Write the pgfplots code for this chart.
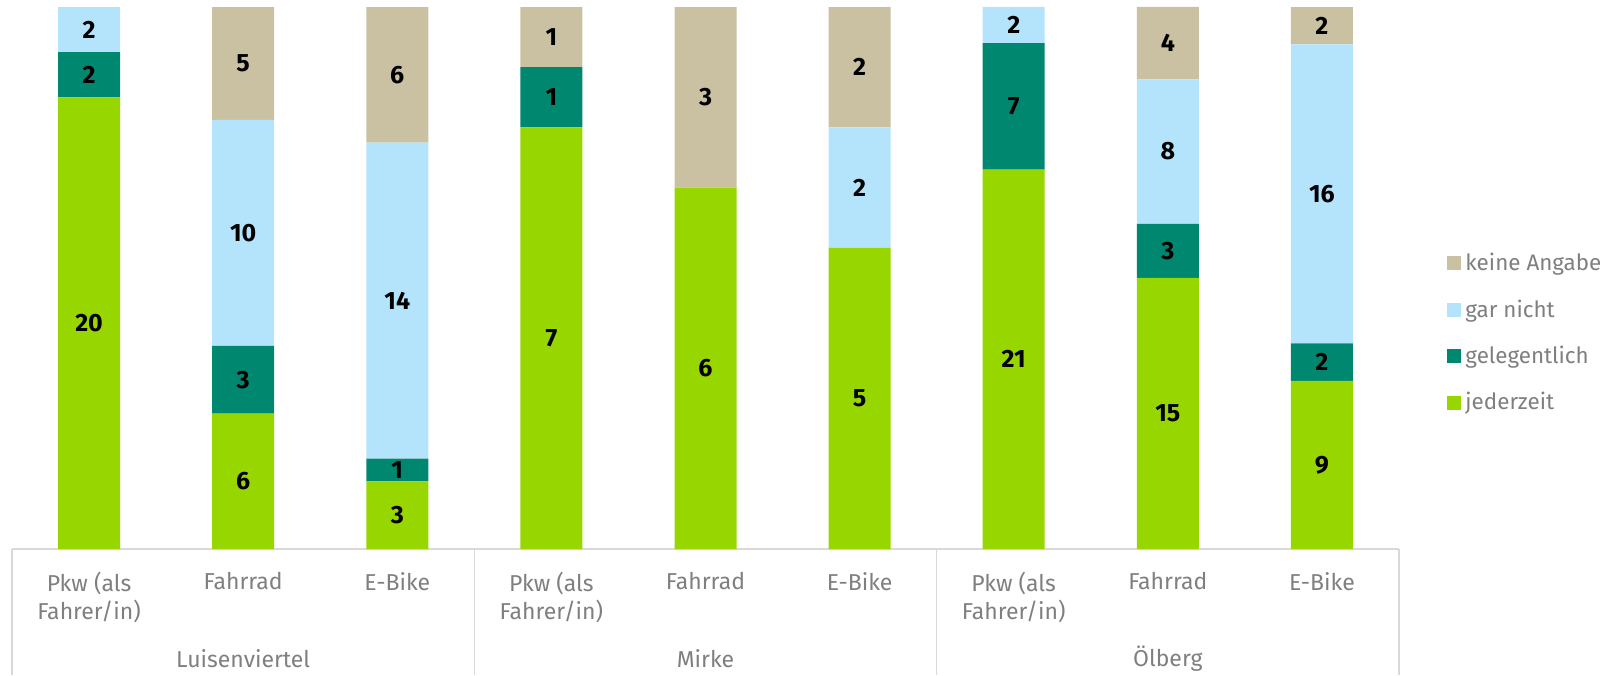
\documentclass[border=0pt]{standalone}
\usepackage{fontspec}
\setmainfont{Fira Sans}
\usepackage{pgfplots}
\pgfplotsset{compat=1.18}
\usepackage{pgfplotstable}

\definecolor{cJed}{HTML}{98D600}
\definecolor{cGel}{HTML}{00876F}
\definecolor{cGar}{HTML}{B4E4FC}
\definecolor{cKein}{HTML}{C9C1A2}
\definecolor{txtgray}{HTML}{7F7F7F}
\definecolor{linegray}{HTML}{D9D9D9}

% counts per bar; tot = respondents per bar
\pgfplotstableread{
x jed gel gar kein tot
0 20 2 2 0 24
1 6 3 10 5 24
2 3 1 14 6 24
3 7 1 0 1 9
4 6 0 0 3 9
5 5 0 2 2 9
6 21 7 2 0 30
7 15 3 8 4 30
8 9 2 16 2 29
}\datatable

\pgfplotsset{
  base/.style={
    width=693.5pt, height=271pt, scale only axis,
    xmin=-0.5, xmax=8.5, ymin=0, ymax=100,
  },
  lbl/.style={
    draw=none, mark=none,
    /pgf/number format/assume math mode=true,
    nodes near coords={\pgfmathfloatifflags{\pgfplotspointmeta}{0}{}{\pgfmathprintnumber{\pgfplotspointmeta}}},
    nodes near coords align={anchor=center},
    every node near coord/.append style={font=\fontsize{12.5}{15}\selectfont\bfseries, text=black, inner sep=0pt},
  },
}

\begin{document}
\begin{tikzpicture}
\useasboundingbox (-6pt,-63pt) rectangle (797.5pt,274.5pt);
\begin{axis}[
  base,
  ybar stacked,
  bar width=31pt,
  hide y axis,
  axis x line*=bottom,
  x axis line style={draw=linegray, line width=0.6pt},
  xtick={0,...,8},
  xtick style={draw=none},
  xticklabels={Pkw (als\\Fahrer/in), Fahrrad, E-Bike, Pkw (als\\Fahrer/in), Fahrrad, E-Bike, Pkw (als\\Fahrer/in), Fahrrad, E-Bike},
  xticklabel style={align=center, font=\fontsize{11.5}{14}\selectfont, text=txtgray, yshift=-8pt},
  clip=false,
  legend style={at={(1.0303,0.3985)}, anchor=west, draw=none, fill=none,
    font=\fontsize{11.2}{14}\selectfont, text=txtgray, row sep=9pt},
  legend cell align=left,
  reverse legend,
  legend image code/.code={\fill[#1, draw=none] (0pt,-3.5pt) rectangle (7pt,3.5pt);},
]
\addplot[fill=cJed, draw=none] table[x=x, y expr=\thisrow{jed}/\thisrow{tot}*100] \datatable;
\addplot[fill=cGel, draw=none] table[x=x, y expr=\thisrow{gel}/\thisrow{tot}*100] \datatable;
\addplot[fill=cGar, draw=none] table[x=x, y expr=\thisrow{gar}/\thisrow{tot}*100] \datatable;
\addplot[fill=cKein, draw=none] table[x=x, y expr=\thisrow{kein}/\thisrow{tot}*100] \datatable;
\legend{jederzeit, gelegentlich, gar nicht, keine Angabe}

\pgfplotsinvokeforeach{-0.5,2.5,5.5,8.5}{
  \draw[linegray, line width=0.6pt] (axis cs:#1,0) -- ++(0pt,-63pt);
}
\node[text=txtgray, font=\fontsize{11.5}{14}\selectfont] at (axis cs:1,0) [yshift=-55pt] {Luisenviertel};
\node[text=txtgray, font=\fontsize{11.5}{14}\selectfont] at (axis cs:4,0) [yshift=-55pt] {Mirke};
\node[text=txtgray, font=\fontsize{11.5}{14}\selectfont] at (axis cs:7,0) [yshift=-55pt] {Ölberg};
\end{axis}

\begin{axis}[base, hide axis, clip=false]
\addplot[lbl, point meta=\thisrow{jed}] table[x=x, y expr=\thisrow{jed}/2/\thisrow{tot}*100] \datatable;
\addplot[lbl, point meta=\thisrow{gel}] table[x=x, y expr=(\thisrow{jed}+\thisrow{gel}/2)/\thisrow{tot}*100] \datatable;
\addplot[lbl, point meta=\thisrow{gar}] table[x=x, y expr=(\thisrow{jed}+\thisrow{gel}+\thisrow{gar}/2)/\thisrow{tot}*100] \datatable;
\addplot[lbl, point meta=\thisrow{kein}] table[x=x, y expr=(\thisrow{tot}-\thisrow{kein}/2)/\thisrow{tot}*100] \datatable;
\end{axis}
\end{tikzpicture}
\end{document}
